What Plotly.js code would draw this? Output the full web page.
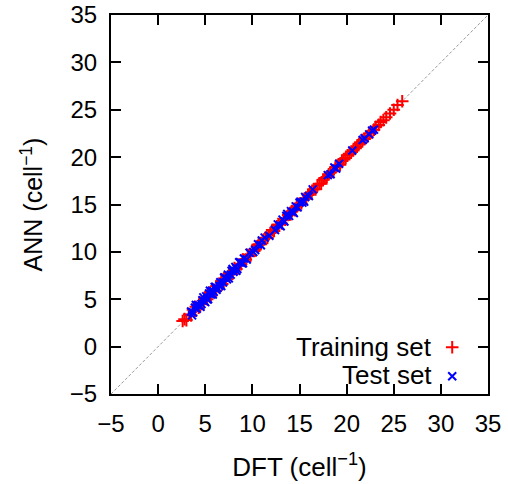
<!DOCTYPE html>
<html>
<head>
<meta charset="utf-8">
<script src="https://cdn.plot.ly/plotly-3.0.1.min.js"></script>
<style>html,body{margin:0;padding:0;background:#fff;}#chart{width:508px;height:484px;}</style>
</head>
<body>
<div id="chart"></div>
<script>
const trainDFT = [2.6, 2.8, 3.0, 3.3, 3.5, 3.7, 3.9, 4.0, 4.3, 4.4, 4.6, 4.9, 5.0, 5.2, 5.5, 5.6, 5.8, 6.1, 6.2, 6.4, 6.7, 6.8, 7.0, 7.2, 7.5, 7.6, 7.9, 8.1, 8.3, 8.5, 8.8, 9.0, 9.3, 9.5, 9.8, 10.0, 10.2, 10.5, 10.7, 10.9, 11.2, 11.4, 11.6, 11.9, 12.1, 12.3, 12.6, 12.8, 13.1, 13.3, 13.5, 13.8, 14.0, 14.2, 14.5, 14.7, 15.0, 15.2, 15.4, 15.7, 15.9, 16.1, 16.3, 16.5, 16.7, 16.9, 17.1, 17.3, 17.5, 17.7, 17.9, 18.1, 18.3, 18.6, 18.8, 19.0, 19.3, 19.5, 19.7, 19.9, 20.1, 20.3, 20.5, 20.7, 20.9, 21.1, 21.3, 21.5, 21.7, 21.9, 22.2, 22.4, 22.6, 22.9, 23.1, 23.4, 23.6, 23.9, 24.2, 24.6, 25.0, 25.4, 25.9];
const trainANN = [2.7, 2.9, 2.8, 3.4, 3.3, 3.9, 3.8, 4.2, 4.1, 4.6, 4.5, 5.0, 5.2, 5.0, 5.7, 5.4, 6.0, 5.9, 6.4, 6.3, 6.9, 6.6, 7.2, 7.0, 7.6, 7.8, 7.7, 8.3, 8.2, 8.6, 8.7, 9.2, 9.2, 9.7, 9.6, 10.2, 10.1, 10.6, 10.8, 10.8, 11.3, 11.5, 11.5, 12.0, 12.3, 12.2, 12.7, 12.9, 13.0, 13.5, 13.4, 13.9, 14.1, 14.3, 14.4, 14.8, 15.1, 15.1, 15.5, 15.6, 16.0, 16.2, 16.3, 16.6, 16.6, 17.0, 17.2, 17.2, 17.6, 17.8, 17.9, 18.2, 18.4, 18.5, 18.9, 19.1, 19.2, 19.6, 19.8, 19.9, 20.2, 20.3, 20.6, 20.7, 21.0, 21.1, 21.4, 21.5, 21.8, 21.9, 22.2, 22.5, 22.6, 22.9, 23.2, 23.4, 23.7, 23.9, 24.2, 24.6, 25.0, 25.5, 25.9];
const testDFT = [3.5, 3.6, 3.7, 3.9, 4.0, 4.1, 4.2, 4.4, 4.5, 4.6, 4.7, 4.8, 4.9, 5.0, 5.1, 5.2, 5.3, 5.4, 5.5, 5.6, 5.7, 5.8, 5.9, 6.0, 6.1, 6.2, 6.3, 6.5, 6.6, 6.7, 6.9, 7.0, 7.1, 7.3, 7.4, 7.5, 7.7, 7.8, 7.9, 8.0, 8.2, 8.3, 8.4, 8.6, 8.7, 8.9, 9.0, 9.1, 9.4, 9.7, 10.1, 10.3, 10.6, 10.9, 11.0, 11.3, 11.8, 12.4, 12.7, 12.9, 13.0, 13.2, 13.4, 13.6, 13.7, 13.9, 14.1, 14.3, 14.4, 14.6, 14.8, 15.0, 15.1, 15.3, 15.5, 15.6, 16.0, 16.4, 18.0, 18.3, 18.7, 18.9, 19.2, 20.6, 21.7, 21.9, 22.4, 22.7, 22.9];
const testANN = [3.7, 3.3, 3.6, 4.1, 4.4, 4.0, 4.4, 4.3, 4.2, 4.5, 4.9, 5.2, 4.8, 4.7, 5.3, 5.0, 5.0, 5.6, 5.9, 5.5, 5.9, 5.5, 5.8, 6.3, 6.3, 6.0, 6.2, 6.4, 6.8, 6.4, 6.8, 7.3, 7.3, 7.1, 7.6, 7.2, 7.6, 8.0, 8.2, 7.9, 8.4, 8.0, 8.2, 8.9, 8.9, 8.8, 8.8, 9.3, 9.2, 9.9, 10.0, 10.2, 10.8, 10.7, 11.2, 11.5, 11.7, 12.3, 12.9, 12.8, 12.7, 13.4, 13.2, 13.8, 14.0, 13.8, 14.3, 14.2, 14.1, 14.8, 14.7, 15.2, 15.3, 15.2, 15.3, 15.8, 15.9, 16.6, 18.1, 18.2, 18.9, 18.8, 19.3, 20.7, 21.8, 22.0, 22.4, 22.8, 22.9];
const diagLine = [-5, 35];
const tickVals = [-5, 0, 5, 10, 15, 20, 25, 30, 35];
const trainLabel = "Training set";
const testLabel = "Test set";

const FONT = "Liberation Sans, Arial, sans-serif";
const axisCommon = {
  range: [-5, 35],
  tickvals: tickVals,
  ticks: "inside",
  ticklen: 10,
  tickwidth: 2,
  tickcolor: "#000",
  showline: true,
  linecolor: "#000",
  linewidth: 2,
  mirror: "ticks",
  showgrid: false,
  zeroline: false,
  ticklabelstandoff: 7,
  tickfont: {family: FONT, size: 24, color: "#000"}
};

const traces = [
  {x: diagLine, y: diagLine, mode: "lines", line: {color: "#999", width: 1, dash: "3px,2px"}, showlegend: false, hoverinfo: "skip"},
  {x: trainDFT, y: trainANN, mode: "markers", name: " ", marker: {symbol: "cross-thin", size: 9, color: "#ff0000", line: {color: "#ff0000", width: 2}}},
  {x: testDFT, y: testANN, mode: "markers", name: " ", marker: {symbol: "x-thin", size: 8, color: "#0000ff", line: {color: "#0000ff", width: 2}}}
];

const layout = {
  width: 508, height: 484,
  margin: {l: 111, r: 20, t: 15, b: 90},
  paper_bgcolor: "#fff", plot_bgcolor: "#fff",
  font: {family: FONT, size: 24, color: "#000"},
  xaxis: Object.assign({}, axisCommon, {title: {text: "DFT (cell<sup>−1</sup>)", font: {family: FONT, size: 26}, standoff: 22}}),
  yaxis: Object.assign({}, axisCommon, {title: {text: "ANN (cell<sup>−1</sup>)", font: {family: FONT, size: 25}, standoff: 20}}),
  showlegend: true,
  legend: {x: 0.852, y: 0.175, xanchor: "left", yanchor: "top", bgcolor: "rgba(0,0,0,0)", font: {family: FONT, size: 20}, tracegroupgap: 0, itemwidth: 30},
  annotations: [
    {xref: "paper", yref: "paper", x: 0.856, y: 0.124, xanchor: "right", yanchor: "middle", text: trainLabel, showarrow: false, font: {family: FONT, size: 26, color: "#000"}},
    {xref: "paper", yref: "paper", x: 0.856, y: 0.05, xanchor: "right", yanchor: "middle", text: testLabel, showarrow: false, font: {family: FONT, size: 26, color: "#000"}}
  ]
};

Plotly.newPlot("chart", traces, layout, {displayModeBar: false, staticPlot: true});
</script>
</body>
</html>
